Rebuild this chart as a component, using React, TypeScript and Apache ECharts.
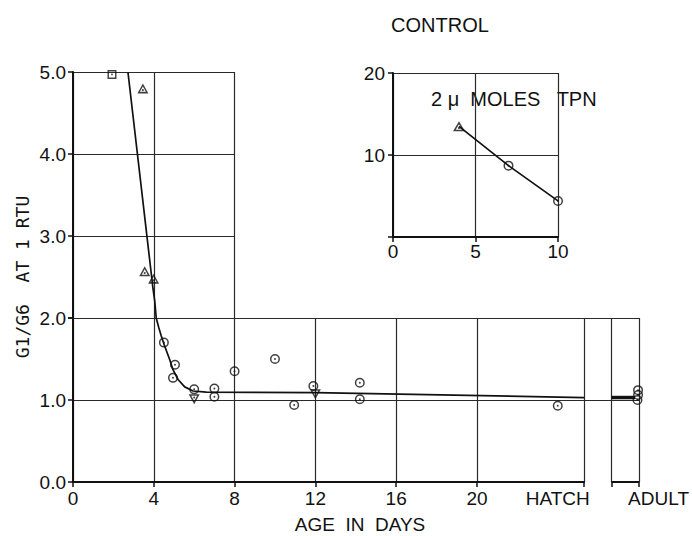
import React, { useEffect, useRef } from 'react';
import * as echarts from 'echarts';

// ---------- data ----------
const mainXTicks = [0, 4, 8, 12, 16, 20];
const hatchDay = 25.3; // position of the HATCH boundary on the day scale
const hatchLabelAt = 24; // where the HATCH label is centred
const adultLabelAt = 1.6;

// main panel: G1/G6 ratio vs age in days
const circlePts: number[][] = [
  [4.5, 1.7], [5.05, 1.43], [4.95, 1.27], [6.0, 1.13], [7.0, 1.14], [7.0, 1.04],
  [8.0, 1.35], [10.0, 1.5], [10.95, 0.94], [11.9, 1.17], [14.2, 1.21], [14.2, 1.01],
  [24.0, 0.93],
];
const trianglePts: number[][] = [[3.46, 4.8], [3.55, 2.57], [3.99, 2.48]];
const squarePts: number[][] = [[1.93, 4.97]];
const invTrianglePts: number[][] = [[6.0, 1.01], [12.0, 1.07]];
const fitCurve: number[][] = [
  [2.72, 5.0], [3.96, 2.36], [4.05, 2.2], [4.12, 2.0], [4.25, 1.88], [4.37, 1.78],
  [4.52, 1.67], [4.79, 1.49], [4.95, 1.37], [5.2, 1.25], [5.53, 1.16], [5.94, 1.11],
  [6.6, 1.095], [12, 1.09], [25.3, 1.03],
];

// adult panel (x: 0 = hatch edge, 1 = panel start, 2 = adult)
const adultPts: number[][] = [[1.96, 1.12], [1.96, 1.06], [1.94, 1.0]];
const adultFit: number[][] = [[1, 1.03], [1.85, 1.03]];
const adultBase: number[][] = [[1, 0], [2, 0]];

// inset: CONTROL, 2 µmoles TPN
const insetTriangle: number[][] = [[4, 13.5]];
const insetCircles: number[][] = [[7, 8.7], [10, 4.4]];
const insetLine: number[][] = [[4, 13.5], [7, 8.7], [10, 4.4]];

// ---------- styles ----------
const INK = '#111';
const GRID = '#2a2a2a';
const FONT = '"Liberation Sans", Arial, sans-serif';

const ringDot =
  'path://M10,0A10,10,0,1,1,10,20A10,10,0,1,1,10,0ZM10,3A7,7,0,1,0,10,17A7,7,0,1,0,10,3ZM10,8A2,2,0,1,1,10,12A2,2,0,1,1,10,8Z';
const triDot =
  'path://M10,0L20,17L0,17ZM10,5.2L4.6,14.4L15.4,14.4ZM10,9.6A1.8,1.8,0,1,1,10,13.2A1.8,1.8,0,1,1,10,9.6Z';
const invTriDot =
  'path://M0,0L20,0L10,17ZM4.6,2.6L10,11.8L15.4,2.6ZM10,3.8A1.8,1.8,0,1,1,10,7.4A1.8,1.8,0,1,1,10,3.8Z';
const squareDot =
  'path://M0,0H20V20H0ZM3.2,3.2V16.8H16.8V3.2ZM10,8A2,2,0,1,1,10,12A2,2,0,1,1,10,8Z';

const gridLine = { show: true, lineStyle: { color: GRID, width: 1.2 } };
const axisLine = { show: true, lineStyle: { color: INK, width: 2 } };
const tick = { show: true, length: 5, inside: false, lineStyle: { color: INK, width: 1.5 } };
const labelStyle = { color: INK, fontFamily: FONT, fontSize: 19 };

export default function App() {
  const ref = useRef<HTMLDivElement>(null);

  useEffect(() => {
    if (!ref.current) return;
    const chart = echarts.init(ref.current, undefined, { renderer: 'svg' });

    const scatter = (
      data: number[][],
      symbol: string,
      size: number | number[],
      xi: number,
      yi: number,
    ) => ({
      type: 'scatter',
      xAxisIndex: xi,
      yAxisIndex: yi,
      data,
      symbol,
      symbolSize: size,
      clip: false,
      itemStyle: { color: INK },
      z: 5,
    });

    const option: any = {
      animation: false,
      backgroundColor: '#fff',
      grid: [
        { left: 73, top: 72, width: 161.6, height: 246 },
        { left: 73, top: 318, width: 511, height: 164 },
        { left: 584, top: 318, width: 57, height: 164 },
        { left: 393, top: 73, width: 165, height: 164 },
      ],
      xAxis: [
        {
          gridIndex: 0, type: 'value', min: 0, max: 8, interval: 4,
          axisLine: { show: false }, axisTick: { show: false }, axisLabel: { show: false },
          splitLine: gridLine,
        },
        {
          gridIndex: 1, type: 'value', min: 0, max: hatchDay,
          axisLine,
          axisTick: { ...tick, customValues: [...mainXTicks, hatchDay] },
          axisLabel: {
            ...labelStyle,
            margin: 7,
            customValues: [...mainXTicks, hatchLabelAt],
            formatter: (v: number) => (v === hatchLabelAt ? 'HATCH' : String(v)),
          },
          splitLine: gridLine,
        },
        {
          gridIndex: 2, type: 'value', min: 0, max: 2, interval: 1,
          axisLine: { show: false },
          axisTick: { ...tick, customValues: [1, 2] },
          axisLabel: {
            ...labelStyle,
            margin: 7,
            align: 'left',
            customValues: [adultLabelAt],
            formatter: () => 'ADULT',
          },
          splitLine: gridLine,
        },
        {
          gridIndex: 3, type: 'value', min: 0, max: 10, interval: 5,
          axisLine,
          axisTick: tick,
          axisLabel: { ...labelStyle, margin: 5 },
          splitLine: gridLine,
        },
      ],
      yAxis: [
        {
          gridIndex: 0, type: 'value', min: 2, max: 5, interval: 1,
          axisLine, axisTick: tick,
          axisLabel: {
            ...labelStyle, margin: 7,
            formatter: (v: number) => (v === 2 ? '' : v.toFixed(1)),
          },
          splitLine: gridLine,
        },
        {
          gridIndex: 1, type: 'value', min: 0, max: 2, interval: 1,
          axisLine, axisTick: tick,
          axisLabel: { ...labelStyle, margin: 7, formatter: (v: number) => v.toFixed(1) },
          splitLine: gridLine,
        },
        {
          gridIndex: 2, type: 'value', min: 0, max: 2, interval: 1,
          axisLine: { show: false }, axisTick: { show: false }, axisLabel: { show: false },
          splitLine: { ...gridLine, showMinLine: false },
        },
        {
          gridIndex: 3, type: 'value', min: 0, max: 20, interval: 10,
          axisLine, axisTick: tick,
          axisLabel: {
            ...labelStyle, margin: 8,
            formatter: (v: number) => (v === 0 ? '' : String(v)),
          },
          splitLine: gridLine,
        },
      ],
      graphic: [
        {
          type: 'text', x: 440, y: 25,
          style: { text: 'CONTROL', fill: INK, fontFamily: FONT, fontSize: 20, align: 'center', verticalAlign: 'middle' },
        },
        {
          type: 'text', x: 431, y: 99,
          style: { text: '2 \u03bc  MOLES   TPN', fill: INK, fontFamily: FONT, fontSize: 20, align: 'left', verticalAlign: 'middle' },
        },
        {
          type: 'text', x: 360, y: 524,
          style: { text: 'AGE  IN  DAYS', fill: INK, fontFamily: FONT, fontSize: 19, align: 'center', verticalAlign: 'middle' },
        },
        {
          type: 'text', x: 22, y: 277, rotation: Math.PI / 2,
          style: { text: 'G1/G6  AT 1 RTU', fill: INK, fontFamily: '"DejaVu Sans Mono", monospace', fontSize: 18, align: 'center', verticalAlign: 'middle' },
        },
      ],
      series: [
        {
          type: 'line', xAxisIndex: 1, yAxisIndex: 1, data: fitCurve,
          symbol: 'none', clip: false, lineStyle: { color: INK, width: 1.7 }, z: 3,
        },
        scatter(circlePts, ringDot, 10, 1, 1),
        scatter(trianglePts, triDot, [11, 10], 1, 1),
        scatter(squarePts, squareDot, 9, 1, 1),
        scatter(invTrianglePts, invTriDot, [11, 10], 1, 1),
        {
          type: 'line', xAxisIndex: 2, yAxisIndex: 2, data: adultFit,
          symbol: 'none', clip: false, lineStyle: { color: INK, width: 3.5 }, z: 3,
        },
        {
          type: 'line', xAxisIndex: 2, yAxisIndex: 2, data: adultBase,
          symbol: 'none', clip: false, lineStyle: { color: INK, width: 2 }, z: 3,
        },
        scatter(adultPts, ringDot, 10, 2, 2),
        {
          type: 'line', xAxisIndex: 3, yAxisIndex: 3, data: insetLine,
          symbol: 'none', clip: false, lineStyle: { color: INK, width: 1.7 }, z: 3,
        },
        scatter(insetTriangle, triDot, [12, 10], 3, 3),
        scatter(insetCircles, ringDot, 10, 3, 3),
      ],
    };

    chart.setOption(option);
    return () => chart.dispose();
  }, []);

  return (
    <div
      ref={ref}
      style={{ position: 'absolute', left: 0, top: 0, width: 692, height: 536, background: '#fff' }}
    />
  );
}
